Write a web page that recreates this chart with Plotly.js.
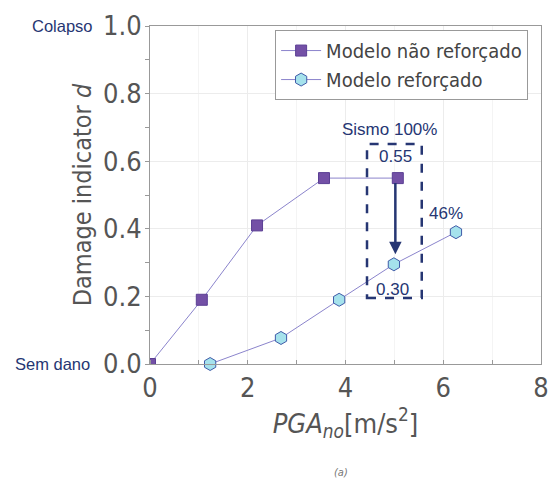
<!DOCTYPE html>
<html><head><meta charset="utf-8">
<script src="https://cdn.plot.ly/plotly-3.0.1.min.js"></script>
<style>body{margin:0;background:#fff}#c{width:551px;height:483px}</style>
</head><body><div id="c"></div>
<script>
const seriesNames = ["Modelo não reforçado", "Modelo reforçado"];
const pgaUnreinforced = [0, 1.06, 2.19, 3.56, 5.07];
const dUnreinforced = [0, 0.19, 0.41, 0.55, 0.55];
const pgaReinforced = [1.23, 2.68, 3.87, 4.99, 6.26];
const dReinforced = [0.0, 0.077, 0.19, 0.295, 0.39];
const xTicks = [0, 2, 4, 6, 8];
const yTicks = [0.0, 0.2, 0.4, 0.6, 0.8, 1.0];
const yTickText = ["0.0", "0.2", "0.4", "0.6", "0.8", "1.0"];

const FONT = "DejaVu Sans Condensed, Liberation Sans, Arial, sans-serif";
const SANS = "Liberation Sans, Arial, sans-serif";
const NAVY = "#263673";
const GRAY = "#555555";

const traces = [
  {x: pgaUnreinforced, y: dUnreinforced, name: seriesNames[0], mode: "lines+markers",
   line: {color: "#8b84cc", width: 1},
   marker: {symbol: "square", size: 11, color: "#7350a6", line: {color: "#5b3f94", width: 1}},
   cliponaxis: true},
  {x: pgaReinforced, y: dReinforced, name: seriesNames[1], mode: "lines+markers",
   line: {color: "#8b84cc", width: 1},
   marker: {symbol: "hexagon", size: 13, color: "#a5e2ec", line: {color: "#3f5ba8", width: 1}},
   cliponaxis: false}
];

const layout = {
  width: 551, height: 483,
  margin: {l: 150, r: 10, t: 26, b: 119},
  paper_bgcolor: "#fff", plot_bgcolor: "#fff",
  font: {family: FONT, color: GRAY},
  showlegend: true,
  legend: {x: 0.32, y: 0.988, xanchor: "left", yanchor: "top",
    bordercolor: "#999", borderwidth: 1, bgcolor: "#fff",
    font: {size: 20, color: "#444", family: FONT}, tracegroupgap: 0, itemwidth: 40},
  xaxis: {range: [0, 8], tickvals: xTicks, ticktext: xTicks.map(String),
    tickfont: {size: 27, color: GRAY, family: FONT},
    showline: true, linecolor: "#999", linewidth: 1, mirror: true,
    showgrid: true, gridcolor: "#ececec", zeroline: false,
    ticks: "", minor: {dtick: 1, ticks: "inside", ticklen: 4, tickcolor: "#999", showgrid: true, gridcolor: "#f4f4f4"},
    title: {text: "<i>PGA</i><sub><i>no</i></sub>[m/s<sup>2</sup>]", font: {size: 27, color: GRAY, family: FONT}, standoff: 4}},
  yaxis: {range: [0, 1], tickvals: yTicks, ticktext: yTickText,
    tickfont: {size: 27, color: GRAY, family: FONT},
    showline: true, linecolor: "#999", linewidth: 1, mirror: true,
    showgrid: true, gridcolor: "#ececec", zeroline: false,
    ticks: "", ticklabelstandoff: 2,
    minor: {dtick: 0.1, ticks: "outside", ticklen: 4, tickcolor: "#999", showgrid: false},
    title: {text: "Damage indicator <i>d</i>", font: {size: 25, color: GRAY, family: FONT}, standoff: 4}},
  shapes: [
    {type: "rect", xref: "x", yref: "y", x0: 4.44, x1: 5.56, y0: 0.195, y1: 0.651,
     line: {color: NAVY, width: 2.5, dash: "dash"}}
  ],
  annotations: [
    {x: 5.02, y: 0.325, ax: 5.02, ay: 0.54, xref: "x", yref: "y", axref: "x", ayref: "y",
     showarrow: true, arrowhead: 2, arrowsize: 1, arrowwidth: 2.5, arrowcolor: NAVY, text: ""},
    {x: 4.9, y: 0.695, xref: "x", yref: "y", text: "Sismo 100%", showarrow: false,
     font: {size: 17, color: NAVY, family: SANS}},
    {x: 5.02, y: 0.615, xref: "x", yref: "y", text: "0.55", showarrow: false,
     font: {size: 17, color: NAVY, family: SANS}},
    {x: 4.97, y: 0.22, xref: "x", yref: "y", text: "0.30", showarrow: false,
     font: {size: 17, color: NAVY, family: SANS}},
    {x: 6.05, y: 0.445, xref: "x", yref: "y", text: "46%", showarrow: false,
     font: {size: 17, color: NAVY, family: SANS}},
    {x: -0.14, y: 1.0, xref: "paper", yref: "y", xanchor: "right", text: "Colapso", showarrow: false,
     font: {size: 16.5, color: NAVY, family: SANS}},
    {x: -0.148, y: 0.0, xref: "paper", yref: "y", xanchor: "right", text: "Sem dano", showarrow: false,
     font: {size: 16.5, color: NAVY, family: SANS}},
    {x: 0.488, y: -0.345, xref: "paper", yref: "paper", text: "<i>(a)</i>", showarrow: false,
     font: {size: 11, color: "#777", family: FONT}}
  ]
};

Plotly.newPlot("c", traces, layout, {displayModeBar: false, staticPlot: true});
</script></body></html>
